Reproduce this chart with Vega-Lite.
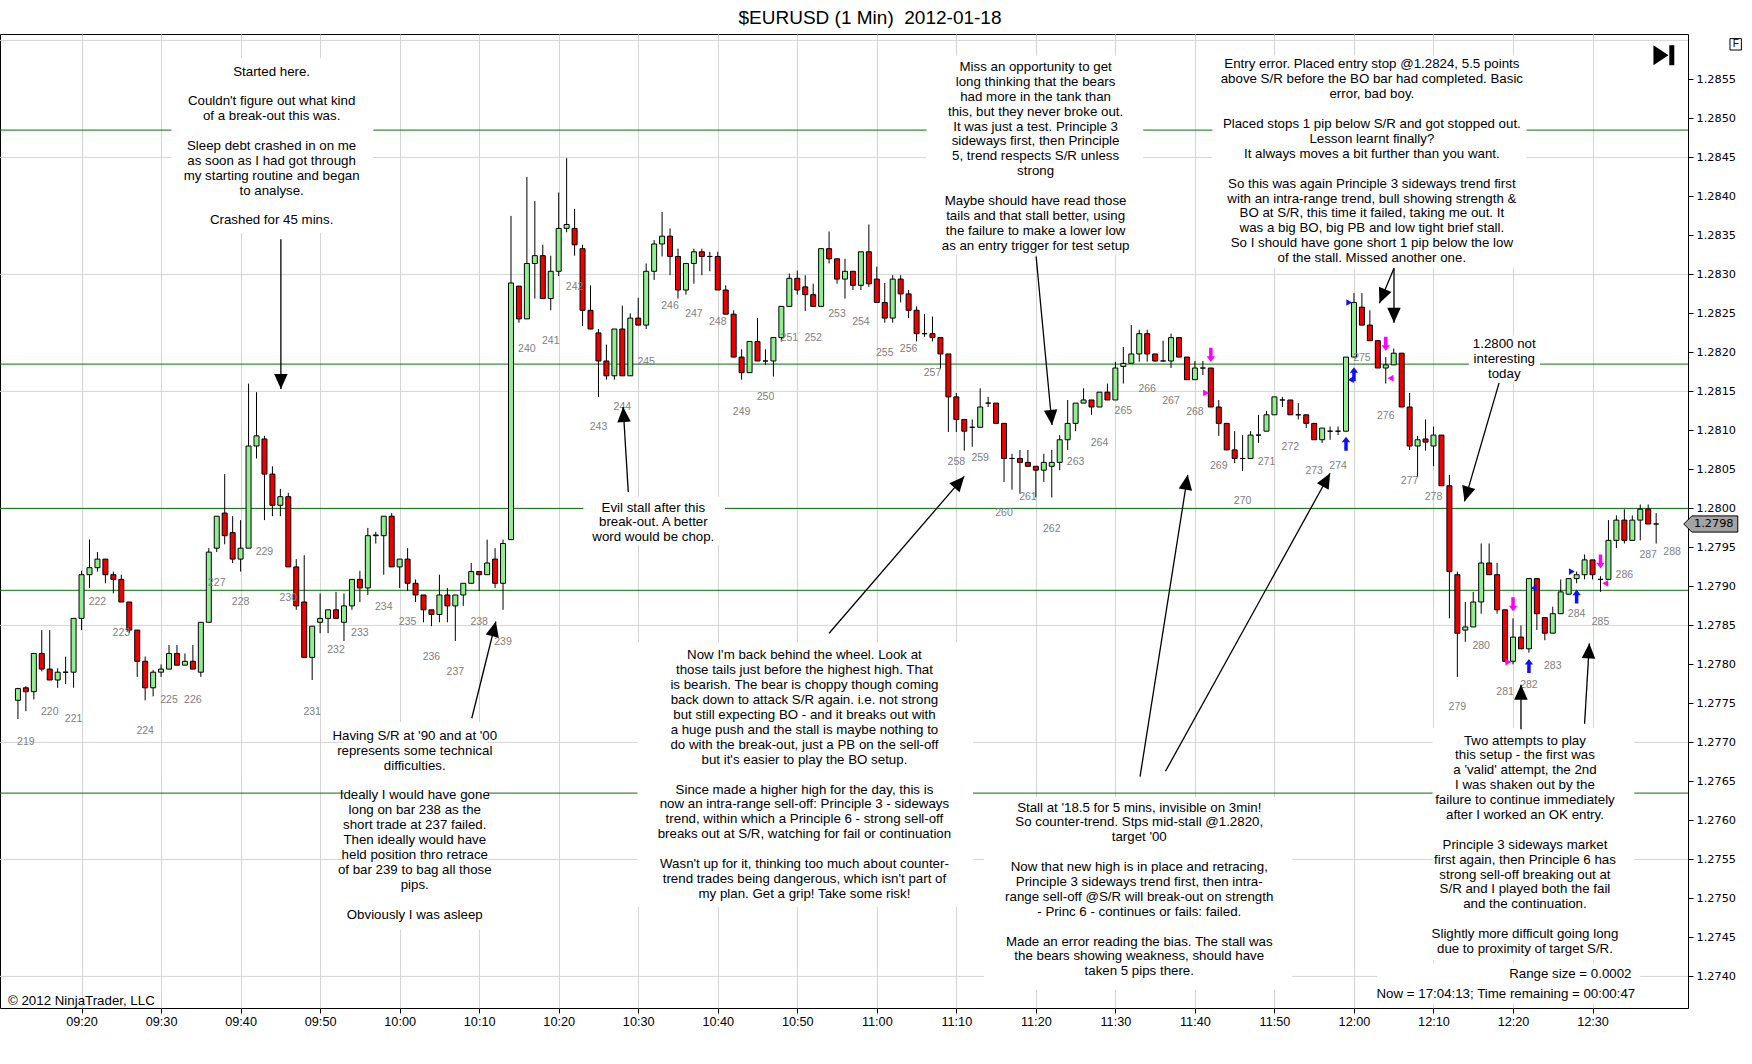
{
  "$schema": "https://vega.github.io/schema/vega-lite/v6.json",
  "description": "EURUSD 1 minute candles, 2012-01-18, with trading notes",
  "width": 1688,
  "height": 974,
  "autosize": {"type": "none"},
  "padding": {"left": 0, "top": 34, "right": 64, "bottom": 56},
  "background": "white",
  "config": {
    "view": {"stroke": "black", "strokeWidth": 1},
    "font": "Liberation Sans"
  },
  "title": {
    "text": "$EURUSD (1 Min)\u00a0 2012-01-18",
    "font": "Liberation Sans",
    "fontSize": 19,
    "fontWeight": "normal",
    "color": "black",
    "anchor": "middle",
    "offset": 6,
    "dx": 26
  },
  "layer": [
    {
      "data": {"values": [
        {"price": 1.274}, {"price": 1.2755}, {"price": 1.277}, {"price": 1.2785}, {"price": 1.28},
        {"price": 1.2815}, {"price": 1.283}, {"price": 1.2845}, {"price": 1.286}
      ]},
      "mark": {"type": "rule", "color": "#d4d4d4", "strokeWidth": 1},
      "encoding": {
        "y": {"field": "price", "type": "quantitative", "title": null,
              "scale": {"domain": [1.2735949, 1.2860821], "nice": false, "zero": false}}
      }
    },
    {
      "data": {"values": [
        {"price": 1.28485}, {"price": 1.28185}, {"price": 1.28}, {"price": 1.27895}, {"price": 1.27635}
      ]},
      "mark": {"type": "rule", "color": "#0a6e0a", "strokeWidth": 1},
      "encoding": {
        "y": {"field": "price", "type": "quantitative", "title": null}
      }
    },
    {
      "data": {
        "values": [
          {"time": "09:31:18", "time2": "09:56:42", "p": 1.28577, "p2": 1.28353},
          {"time": "11:06:15", "time2": "11:33:30", "p": 1.28581, "p2": 1.28325},
          {"time": "11:42:12", "time2": "12:21:42", "p": 1.28581, "p2": 1.28308},
          {"time": "12:14:27", "time2": "12:23:24", "p": 1.28222, "p2": 1.28162},
          {"time": "10:23:06", "time2": "10:40:54", "p": 1.28015, "p2": 1.27953},
          {"time": "09:53:00", "time2": "10:11:06", "p": 1.27726, "p2": 1.2746},
          {"time": "10:29:54", "time2": "11:12:06", "p": 1.27828, "p2": 1.27489},
          {"time": "11:13:30", "time2": "11:52:15", "p": 1.2763, "p2": 1.27383},
          {"time": "12:09:54", "time2": "12:35:15", "p": 1.27719, "p2": 1.27421},
          {"time": "12:02:54", "time2": "12:36:00", "p": 1.27417, "p2": 1.27365}
        ],
        "format": {"parse": {"time": "date:'%H:%M:%S'", "time2": "date:'%H:%M:%S'"}}
      },
      "mark": {"type": "rect", "color": "white"},
      "encoding": {
        "x": {"field": "time", "type": "temporal", "title": null},
        "x2": {"field": "time2"},
        "y": {"field": "p", "type": "quantitative", "title": null},
        "y2": {"field": "p2"}
      }
    },
    {
      "data": {
        "values": [
          {"time": "09:12", "open": 1.27754, "high": 1.2777, "low": 1.2773, "close": 1.27769},
          {"time": "09:13", "open": 1.2777, "high": 1.27772, "low": 1.2774, "close": 1.27765},
          {"time": "09:14", "open": 1.27765, "high": 1.27814, "low": 1.27755, "close": 1.27814},
          {"time": "09:15", "open": 1.27814, "high": 1.27844, "low": 1.27791, "close": 1.27794},
          {"time": "09:16", "open": 1.27794, "high": 1.27844, "low": 1.2778, "close": 1.2778},
          {"time": "09:17", "open": 1.2778, "high": 1.27795, "low": 1.2777, "close": 1.2779},
          {"time": "09:18", "open": 1.2779, "high": 1.2781, "low": 1.27775, "close": 1.2779},
          {"time": "09:19", "open": 1.2779, "high": 1.27859, "low": 1.2777, "close": 1.27859},
          {"time": "09:20", "open": 1.27859, "high": 1.2792, "low": 1.27844, "close": 1.27915},
          {"time": "09:21", "open": 1.27915, "high": 1.2796, "low": 1.27898, "close": 1.27924},
          {"time": "09:22", "open": 1.27924, "high": 1.27944, "low": 1.27919, "close": 1.27935},
          {"time": "09:23", "open": 1.27935, "high": 1.27935, "low": 1.27904, "close": 1.27915},
          {"time": "09:24", "open": 1.27915, "high": 1.27919, "low": 1.27891, "close": 1.27909},
          {"time": "09:25", "open": 1.27909, "high": 1.27915, "low": 1.2788, "close": 1.2788},
          {"time": "09:26", "open": 1.2788, "high": 1.2788, "low": 1.2784, "close": 1.27844},
          {"time": "09:27", "open": 1.27844, "high": 1.27844, "low": 1.27784, "close": 1.27804},
          {"time": "09:28", "open": 1.27804, "high": 1.2781, "low": 1.27754, "close": 1.2777},
          {"time": "09:29", "open": 1.2777, "high": 1.27793, "low": 1.27759, "close": 1.2779},
          {"time": "09:30", "open": 1.2779, "high": 1.278, "low": 1.27784, "close": 1.27794},
          {"time": "09:31", "open": 1.27794, "high": 1.27825, "low": 1.27794, "close": 1.27814},
          {"time": "09:32", "open": 1.27814, "high": 1.27825, "low": 1.27799, "close": 1.27799},
          {"time": "09:33", "open": 1.27799, "high": 1.27814, "low": 1.27799, "close": 1.27804},
          {"time": "09:34", "open": 1.27804, "high": 1.27825, "low": 1.27794, "close": 1.27794},
          {"time": "09:35", "open": 1.2779, "high": 1.27854, "low": 1.27784, "close": 1.27854},
          {"time": "09:36", "open": 1.27854, "high": 1.27949, "low": 1.27854, "close": 1.27944},
          {"time": "09:37", "open": 1.27949, "high": 1.2799, "low": 1.27944, "close": 1.2799},
          {"time": "09:38", "open": 1.27994, "high": 1.28044, "low": 1.27954, "close": 1.27965},
          {"time": "09:39", "open": 1.27969, "high": 1.2799, "low": 1.2793, "close": 1.27935},
          {"time": "09:40", "open": 1.27935, "high": 1.27985, "low": 1.27919, "close": 1.27949},
          {"time": "09:41", "open": 1.27949, "high": 1.2816, "low": 1.27949, "close": 1.2808},
          {"time": "09:42", "open": 1.2808, "high": 1.28149, "low": 1.28064, "close": 1.28093},
          {"time": "09:43", "open": 1.28089, "high": 1.28093, "low": 1.27985, "close": 1.28044},
          {"time": "09:44", "open": 1.28044, "high": 1.28054, "low": 1.2799, "close": 1.28004},
          {"time": "09:45", "open": 1.28004, "high": 1.28025, "low": 1.2799, "close": 1.28015},
          {"time": "09:46", "open": 1.28015, "high": 1.2802, "low": 1.27925, "close": 1.27925},
          {"time": "09:47", "open": 1.27925, "high": 1.27935, "low": 1.2787, "close": 1.27875},
          {"time": "09:48", "open": 1.2788, "high": 1.2794, "low": 1.27809, "close": 1.27809},
          {"time": "09:49", "open": 1.27809, "high": 1.27849, "low": 1.2778, "close": 1.27849},
          {"time": "09:50", "open": 1.27854, "high": 1.27891, "low": 1.2784, "close": 1.27859},
          {"time": "09:51", "open": 1.27859, "high": 1.2787, "low": 1.2784, "close": 1.2787},
          {"time": "09:52", "open": 1.2787, "high": 1.27893, "low": 1.27859, "close": 1.27859},
          {"time": "09:53", "open": 1.27854, "high": 1.27891, "low": 1.2783, "close": 1.27875},
          {"time": "09:54", "open": 1.27875, "high": 1.27909, "low": 1.2787, "close": 1.27909},
          {"time": "09:55", "open": 1.27909, "high": 1.2792, "low": 1.2788, "close": 1.27898},
          {"time": "09:56", "open": 1.27898, "high": 1.27975, "low": 1.27889, "close": 1.27965},
          {"time": "09:57", "open": 1.27965, "high": 1.2797, "low": 1.27955, "close": 1.27966},
          {"time": "09:58", "open": 1.27965, "high": 1.2799, "low": 1.27915, "close": 1.2799},
          {"time": "09:59", "open": 1.2799, "high": 1.27994, "low": 1.27925, "close": 1.27925},
          {"time": "10:00", "open": 1.27925, "high": 1.27935, "low": 1.27898, "close": 1.27935},
          {"time": "10:01", "open": 1.27935, "high": 1.27949, "low": 1.27894, "close": 1.27904},
          {"time": "10:02", "open": 1.27904, "high": 1.27909, "low": 1.2788, "close": 1.27889},
          {"time": "10:03", "open": 1.27889, "high": 1.27889, "low": 1.27854, "close": 1.2787},
          {"time": "10:04", "open": 1.2787, "high": 1.2787, "low": 1.27849, "close": 1.27864},
          {"time": "10:05", "open": 1.27864, "high": 1.27915, "low": 1.27854, "close": 1.27889},
          {"time": "10:06", "open": 1.27889, "high": 1.27898, "low": 1.27854, "close": 1.27875},
          {"time": "10:07", "open": 1.27875, "high": 1.27889, "low": 1.2783, "close": 1.27889},
          {"time": "10:08", "open": 1.27889, "high": 1.27904, "low": 1.27875, "close": 1.27904},
          {"time": "10:09", "open": 1.27904, "high": 1.2793, "low": 1.27904, "close": 1.27919},
          {"time": "10:10", "open": 1.27919, "high": 1.27919, "low": 1.27894, "close": 1.27915},
          {"time": "10:11", "open": 1.27915, "high": 1.2796, "low": 1.27915, "close": 1.2793},
          {"time": "10:12", "open": 1.27935, "high": 1.27949, "low": 1.27898, "close": 1.27904},
          {"time": "10:13", "open": 1.27904, "high": 1.2796, "low": 1.2787, "close": 1.27955},
          {"time": "10:14", "open": 1.2796, "high": 1.28375, "low": 1.2796, "close": 1.28289},
          {"time": "10:15", "open": 1.28285, "high": 1.28285, "low": 1.28238, "close": 1.28243},
          {"time": "10:16", "open": 1.28243, "high": 1.28425, "low": 1.28243, "close": 1.28314},
          {"time": "10:17", "open": 1.28314, "high": 1.28394, "low": 1.28269, "close": 1.28324},
          {"time": "10:18", "open": 1.28324, "high": 1.28338, "low": 1.28269, "close": 1.28269},
          {"time": "10:19", "open": 1.28269, "high": 1.28324, "low": 1.28254, "close": 1.28304},
          {"time": "10:20", "open": 1.28304, "high": 1.28405, "low": 1.28298, "close": 1.28359},
          {"time": "10:21", "open": 1.28359, "high": 1.28449, "low": 1.28354, "close": 1.28364},
          {"time": "10:22", "open": 1.28359, "high": 1.28384, "low": 1.28324, "close": 1.28338},
          {"time": "10:23", "open": 1.28333, "high": 1.28338, "low": 1.28234, "close": 1.28254},
          {"time": "10:24", "open": 1.28254, "high": 1.28286, "low": 1.2823, "close": 1.2823},
          {"time": "10:25", "open": 1.28225, "high": 1.2823, "low": 1.28143, "close": 1.28189},
          {"time": "10:26", "open": 1.28189, "high": 1.2821, "low": 1.28165, "close": 1.2817},
          {"time": "10:27", "open": 1.2817, "high": 1.2823, "low": 1.28165, "close": 1.2823},
          {"time": "10:28", "open": 1.2823, "high": 1.2826, "low": 1.2817, "close": 1.2817},
          {"time": "10:29", "open": 1.2817, "high": 1.2825, "low": 1.2817, "close": 1.28244},
          {"time": "10:30", "open": 1.28244, "high": 1.2827, "low": 1.28235, "close": 1.28235},
          {"time": "10:31", "open": 1.28235, "high": 1.28314, "low": 1.2823, "close": 1.28304},
          {"time": "10:32", "open": 1.28304, "high": 1.28344, "low": 1.28293, "close": 1.28339},
          {"time": "10:33", "open": 1.28339, "high": 1.2838, "low": 1.28323, "close": 1.28349},
          {"time": "10:34", "open": 1.28349, "high": 1.28359, "low": 1.28299, "close": 1.28323},
          {"time": "10:35", "open": 1.28323, "high": 1.28333, "low": 1.28269, "close": 1.2828},
          {"time": "10:36", "open": 1.2828, "high": 1.28314, "low": 1.28274, "close": 1.28314},
          {"time": "10:37", "open": 1.28314, "high": 1.28333, "low": 1.28288, "close": 1.28329},
          {"time": "10:38", "open": 1.28329, "high": 1.28333, "low": 1.28299, "close": 1.28323},
          {"time": "10:39", "open": 1.28323, "high": 1.28329, "low": 1.28304, "close": 1.28323},
          {"time": "10:40", "open": 1.28323, "high": 1.28329, "low": 1.2828, "close": 1.2828},
          {"time": "10:41", "open": 1.2828, "high": 1.28286, "low": 1.28249, "close": 1.28249},
          {"time": "10:42", "open": 1.28249, "high": 1.28254, "low": 1.28194, "close": 1.28194},
          {"time": "10:43", "open": 1.28194, "high": 1.28204, "low": 1.28165, "close": 1.28174},
          {"time": "10:44", "open": 1.28174, "high": 1.28214, "low": 1.28174, "close": 1.28214},
          {"time": "10:45", "open": 1.28214, "high": 1.28244, "low": 1.28189, "close": 1.28189},
          {"time": "10:46", "open": 1.28189, "high": 1.28204, "low": 1.28184, "close": 1.28189},
          {"time": "10:47", "open": 1.28189, "high": 1.28219, "low": 1.28169, "close": 1.28219},
          {"time": "10:48", "open": 1.28219, "high": 1.28259, "low": 1.28214, "close": 1.28259},
          {"time": "10:49", "open": 1.28259, "high": 1.28301, "low": 1.28259, "close": 1.28295},
          {"time": "10:50", "open": 1.28295, "high": 1.28305, "low": 1.28274, "close": 1.2828},
          {"time": "10:51", "open": 1.28284, "high": 1.28299, "low": 1.28253, "close": 1.28274},
          {"time": "10:52", "open": 1.28274, "high": 1.28288, "low": 1.28259, "close": 1.28259},
          {"time": "10:53", "open": 1.28259, "high": 1.28333, "low": 1.28259, "close": 1.28333},
          {"time": "10:54", "open": 1.28333, "high": 1.28355, "low": 1.28314, "close": 1.2832},
          {"time": "10:55", "open": 1.2832, "high": 1.2832, "low": 1.28288, "close": 1.28294},
          {"time": "10:56", "open": 1.28294, "high": 1.2832, "low": 1.28269, "close": 1.28304},
          {"time": "10:57", "open": 1.28304, "high": 1.28304, "low": 1.2828, "close": 1.28286},
          {"time": "10:58", "open": 1.28286, "high": 1.28329, "low": 1.2828, "close": 1.28329},
          {"time": "10:59", "open": 1.28329, "high": 1.28364, "low": 1.28284, "close": 1.28288},
          {"time": "11:00", "open": 1.28294, "high": 1.2831, "low": 1.28264, "close": 1.28264},
          {"time": "11:01", "open": 1.28264, "high": 1.28289, "low": 1.28238, "close": 1.28244},
          {"time": "11:02", "open": 1.28244, "high": 1.28299, "low": 1.28238, "close": 1.28294},
          {"time": "11:03", "open": 1.28294, "high": 1.28299, "low": 1.28264, "close": 1.28275},
          {"time": "11:04", "open": 1.28275, "high": 1.2828, "low": 1.28244, "close": 1.28254},
          {"time": "11:05", "open": 1.28254, "high": 1.28259, "low": 1.28214, "close": 1.28224},
          {"time": "11:06", "open": 1.28224, "high": 1.28249, "low": 1.2822, "close": 1.28224},
          {"time": "11:07", "open": 1.28224, "high": 1.28246, "low": 1.28214, "close": 1.28219},
          {"time": "11:08", "open": 1.28219, "high": 1.28219, "low": 1.28179, "close": 1.28198},
          {"time": "11:09", "open": 1.28198, "high": 1.28198, "low": 1.28098, "close": 1.28143},
          {"time": "11:10", "open": 1.28143, "high": 1.28148, "low": 1.28098, "close": 1.28114},
          {"time": "11:11", "open": 1.28114, "high": 1.28114, "low": 1.28074, "close": 1.28099},
          {"time": "11:12", "open": 1.28104, "high": 1.28114, "low": 1.28079, "close": 1.28104},
          {"time": "11:13", "open": 1.28104, "high": 1.28154, "low": 1.28104, "close": 1.2813},
          {"time": "11:14", "open": 1.28135, "high": 1.28143, "low": 1.2813, "close": 1.28135},
          {"time": "11:15", "open": 1.28135, "high": 1.28135, "low": 1.28109, "close": 1.28109},
          {"time": "11:16", "open": 1.28109, "high": 1.28109, "low": 1.28034, "close": 1.28064},
          {"time": "11:17", "open": 1.28064, "high": 1.2807, "low": 1.28024, "close": 1.28064},
          {"time": "11:18", "open": 1.28064, "high": 1.28075, "low": 1.28019, "close": 1.28059},
          {"time": "11:19", "open": 1.28059, "high": 1.28075, "low": 1.28054, "close": 1.28054},
          {"time": "11:20", "open": 1.28054, "high": 1.28054, "low": 1.28014, "close": 1.28049},
          {"time": "11:21", "open": 1.28049, "high": 1.2807, "low": 1.28034, "close": 1.28059},
          {"time": "11:22", "open": 1.28054, "high": 1.28075, "low": 1.28014, "close": 1.28059},
          {"time": "11:23", "open": 1.28059, "high": 1.28094, "low": 1.28049, "close": 1.28088},
          {"time": "11:24", "open": 1.28088, "high": 1.28139, "low": 1.28075, "close": 1.28109},
          {"time": "11:25", "open": 1.28109, "high": 1.28135, "low": 1.28099, "close": 1.28135},
          {"time": "11:26", "open": 1.28135, "high": 1.28154, "low": 1.28135, "close": 1.28139},
          {"time": "11:27", "open": 1.28139, "high": 1.28139, "low": 1.2812, "close": 1.2813},
          {"time": "11:28", "open": 1.2813, "high": 1.28149, "low": 1.2813, "close": 1.28149},
          {"time": "11:29", "open": 1.28149, "high": 1.2816, "low": 1.28139, "close": 1.28139},
          {"time": "11:30", "open": 1.28139, "high": 1.28188, "low": 1.28139, "close": 1.2818},
          {"time": "11:31", "open": 1.28182, "high": 1.28207, "low": 1.2816, "close": 1.28186},
          {"time": "11:32", "open": 1.28186, "high": 1.28235, "low": 1.28186, "close": 1.28198},
          {"time": "11:33", "open": 1.28198, "high": 1.28229, "low": 1.28188, "close": 1.28224},
          {"time": "11:34", "open": 1.28224, "high": 1.28229, "low": 1.28188, "close": 1.28198},
          {"time": "11:35", "open": 1.28198, "high": 1.28198, "low": 1.28188, "close": 1.28189},
          {"time": "11:36", "open": 1.28189, "high": 1.28215, "low": 1.28189, "close": 1.28189},
          {"time": "11:37", "open": 1.28189, "high": 1.28224, "low": 1.2818, "close": 1.28219},
          {"time": "11:38", "open": 1.28219, "high": 1.28219, "low": 1.28194, "close": 1.28194},
          {"time": "11:39", "open": 1.28194, "high": 1.28194, "low": 1.28165, "close": 1.28165},
          {"time": "11:40", "open": 1.28165, "high": 1.28189, "low": 1.28165, "close": 1.2818},
          {"time": "11:41", "open": 1.2818, "high": 1.28189, "low": 1.28171, "close": 1.2818},
          {"time": "11:42", "open": 1.2818, "high": 1.2818, "low": 1.2813, "close": 1.2813},
          {"time": "11:43", "open": 1.2813, "high": 1.28139, "low": 1.28093, "close": 1.28109},
          {"time": "11:44", "open": 1.28109, "high": 1.28109, "low": 1.28075, "close": 1.28075},
          {"time": "11:45", "open": 1.28075, "high": 1.28099, "low": 1.28058, "close": 1.28064},
          {"time": "11:46", "open": 1.28064, "high": 1.28094, "low": 1.28048, "close": 1.28064},
          {"time": "11:47", "open": 1.28064, "high": 1.28099, "low": 1.28064, "close": 1.28094},
          {"time": "11:48", "open": 1.28094, "high": 1.2812, "low": 1.28084, "close": 1.28094},
          {"time": "11:49", "open": 1.28099, "high": 1.28125, "low": 1.28099, "close": 1.2812},
          {"time": "11:50", "open": 1.2812, "high": 1.28143, "low": 1.2812, "close": 1.28143},
          {"time": "11:51", "open": 1.28139, "high": 1.28143, "low": 1.2813, "close": 1.28139},
          {"time": "11:52", "open": 1.28139, "high": 1.28139, "low": 1.2812, "close": 1.2812},
          {"time": "11:53", "open": 1.2812, "high": 1.28135, "low": 1.28114, "close": 1.2812},
          {"time": "11:54", "open": 1.2812, "high": 1.2812, "low": 1.28103, "close": 1.28109},
          {"time": "11:55", "open": 1.28109, "high": 1.28109, "low": 1.28088, "close": 1.28088},
          {"time": "11:56", "open": 1.28088, "high": 1.28103, "low": 1.28084, "close": 1.28103},
          {"time": "11:57", "open": 1.28099, "high": 1.28105, "low": 1.28088, "close": 1.28099},
          {"time": "11:58", "open": 1.28099, "high": 1.28105, "low": 1.28094, "close": 1.28099},
          {"time": "11:59", "open": 1.28099, "high": 1.28194, "low": 1.28099, "close": 1.28194},
          {"time": "12:00", "open": 1.28194, "high": 1.28276, "low": 1.28194, "close": 1.28264},
          {"time": "12:01", "open": 1.28258, "high": 1.28276, "low": 1.28235, "close": 1.28235},
          {"time": "12:02", "open": 1.28235, "high": 1.28254, "low": 1.28215, "close": 1.28215},
          {"time": "12:03", "open": 1.28215, "high": 1.28215, "low": 1.2818, "close": 1.2818},
          {"time": "12:04", "open": 1.2818, "high": 1.28194, "low": 1.2816, "close": 1.28184},
          {"time": "12:05", "open": 1.28184, "high": 1.28205, "low": 1.28184, "close": 1.28199},
          {"time": "12:06", "open": 1.28199, "high": 1.28199, "low": 1.2813, "close": 1.2813},
          {"time": "12:07", "open": 1.2813, "high": 1.28148, "low": 1.28075, "close": 1.2808},
          {"time": "12:08", "open": 1.2808, "high": 1.28093, "low": 1.2804, "close": 1.28088},
          {"time": "12:09", "open": 1.28089, "high": 1.28114, "low": 1.28074, "close": 1.28085},
          {"time": "12:10", "open": 1.2808, "high": 1.28105, "low": 1.28054, "close": 1.28094},
          {"time": "12:11", "open": 1.28094, "high": 1.28094, "low": 1.28029, "close": 1.28029},
          {"time": "12:12", "open": 1.28029, "high": 1.28043, "low": 1.27859, "close": 1.27919},
          {"time": "12:13", "open": 1.27915, "high": 1.27919, "low": 1.27784, "close": 1.2784},
          {"time": "12:14", "open": 1.27844, "high": 1.2788, "low": 1.27829, "close": 1.27848},
          {"time": "12:15", "open": 1.27848, "high": 1.27893, "low": 1.27848, "close": 1.2788},
          {"time": "12:16", "open": 1.2788, "high": 1.27955, "low": 1.27865, "close": 1.2793},
          {"time": "12:17", "open": 1.2793, "high": 1.27955, "low": 1.27915, "close": 1.27915},
          {"time": "12:18", "open": 1.27915, "high": 1.2793, "low": 1.27865, "close": 1.2787},
          {"time": "12:19", "open": 1.2787, "high": 1.2787, "low": 1.27804, "close": 1.27804},
          {"time": "12:20", "open": 1.27804, "high": 1.27859, "low": 1.278, "close": 1.27835},
          {"time": "12:21", "open": 1.27835, "high": 1.2785, "low": 1.2782, "close": 1.2782},
          {"time": "12:22", "open": 1.2782, "high": 1.2791, "low": 1.27815, "close": 1.2791},
          {"time": "12:23", "open": 1.2791, "high": 1.2791, "low": 1.27844, "close": 1.27865},
          {"time": "12:24", "open": 1.2786, "high": 1.2786, "low": 1.27831, "close": 1.2784},
          {"time": "12:25", "open": 1.2784, "high": 1.27874, "low": 1.2784, "close": 1.27865},
          {"time": "12:26", "open": 1.27865, "high": 1.27909, "low": 1.27865, "close": 1.27893},
          {"time": "12:27", "open": 1.2789, "high": 1.2791, "low": 1.2789, "close": 1.2791},
          {"time": "12:28", "open": 1.2791, "high": 1.27919, "low": 1.27904, "close": 1.27915},
          {"time": "12:29", "open": 1.27915, "high": 1.27941, "low": 1.27909, "close": 1.27934},
          {"time": "12:30", "open": 1.27934, "high": 1.27934, "low": 1.27909, "close": 1.27915},
          {"time": "12:31", "open": 1.27909, "high": 1.27913, "low": 1.27893, "close": 1.27909},
          {"time": "12:32", "open": 1.27909, "high": 1.27985, "low": 1.27909, "close": 1.27959},
          {"time": "12:33", "open": 1.27959, "high": 1.27991, "low": 1.27949, "close": 1.27985},
          {"time": "12:34", "open": 1.27985, "high": 1.27999, "low": 1.27955, "close": 1.27959},
          {"time": "12:35", "open": 1.27959, "high": 1.27991, "low": 1.27959, "close": 1.27985},
          {"time": "12:36", "open": 1.27985, "high": 1.28005, "low": 1.27959, "close": 1.27999},
          {"time": "12:37", "open": 1.27999, "high": 1.28005, "low": 1.2798, "close": 1.2798},
          {"time": "12:38", "open": 1.2798, "high": 1.27994, "low": 1.27955, "close": 1.2798}
        ],
        "format": {"parse": {"time": "date:'%H:%M'"}}
      },
      "layer": [
        {
          "mark": {"type": "rule", "color": "black", "strokeWidth": 1},
          "encoding": {
            "x": {
              "field": "time", "type": "temporal", "title": null,
              "scale": {"domain": [
                {"year": 1900, "month": 1, "date": 1, "hours": 9, "minutes": 10, "seconds": 22, "milliseconds": 500},
                {"year": 1900, "month": 1, "date": 1, "hours": 12, "minutes": 41, "seconds": 22, "milliseconds": 500}
              ]},
              "axis": {
                "values": [
                  {"year": 1900, "month": 1, "date": 1, "hours": 9, "minutes": 20},
                  {"year": 1900, "month": 1, "date": 1, "hours": 9, "minutes": 30},
                  {"year": 1900, "month": 1, "date": 1, "hours": 9, "minutes": 40},
                  {"year": 1900, "month": 1, "date": 1, "hours": 9, "minutes": 50},
                  {"year": 1900, "month": 1, "date": 1, "hours": 10, "minutes": 0},
                  {"year": 1900, "month": 1, "date": 1, "hours": 10, "minutes": 10},
                  {"year": 1900, "month": 1, "date": 1, "hours": 10, "minutes": 20},
                  {"year": 1900, "month": 1, "date": 1, "hours": 10, "minutes": 30},
                  {"year": 1900, "month": 1, "date": 1, "hours": 10, "minutes": 40},
                  {"year": 1900, "month": 1, "date": 1, "hours": 10, "minutes": 50},
                  {"year": 1900, "month": 1, "date": 1, "hours": 11, "minutes": 0},
                  {"year": 1900, "month": 1, "date": 1, "hours": 11, "minutes": 10},
                  {"year": 1900, "month": 1, "date": 1, "hours": 11, "minutes": 20},
                  {"year": 1900, "month": 1, "date": 1, "hours": 11, "minutes": 30},
                  {"year": 1900, "month": 1, "date": 1, "hours": 11, "minutes": 40},
                  {"year": 1900, "month": 1, "date": 1, "hours": 11, "minutes": 50},
                  {"year": 1900, "month": 1, "date": 1, "hours": 12, "minutes": 0},
                  {"year": 1900, "month": 1, "date": 1, "hours": 12, "minutes": 10},
                  {"year": 1900, "month": 1, "date": 1, "hours": 12, "minutes": 20},
                  {"year": 1900, "month": 1, "date": 1, "hours": 12, "minutes": 30}
                ],
                "format": "%H:%M",
                "grid": true,
                "gridColor": "#d4d4d4",
                "domain": false,
                "tickSize": 5,
                "tickColor": "black",
                "labelFont": "Liberation Sans",
                "labelFontSize": 12.7,
                "labelColor": "black",
                "labelPadding": 2,
                "labelFlush": false,
                "labelOverlap": false
              }
            },
            "y": {
              "field": "low", "type": "quantitative", "title": null,
              "scale": {"domain": [1.2735949, 1.2860821], "nice": false, "zero": false},
              "axis": {
                "orient": "right",
                "values": [1.274, 1.2745, 1.275, 1.2755, 1.276, 1.2765, 1.277, 1.2775, 1.278, 1.2785, 1.279, 1.2795,
                           1.28, 1.2805, 1.281, 1.2815, 1.282, 1.2825, 1.283, 1.2835, 1.284, 1.2845, 1.285, 1.2855],
                "format": ".4f",
                "grid": false,
                "domain": false,
                "tickSize": 5,
                "tickColor": "black",
                "labelFont": "DejaVu Sans",
                "labelFontSize": 11.3,
                "labelColor": "black",
                "labelPadding": 3,
                "labelFlush": false,
                "labelOverlap": false
              }
            },
            "y2": {"field": "high"}
          }
        },
        {
          "mark": {"type": "bar", "size": 5, "stroke": "black", "strokeWidth": 1},
          "encoding": {
            "x": {"field": "time", "type": "temporal", "title": null},
            "y": {"field": "open", "type": "quantitative", "title": null},
            "y2": {"field": "close"},
            "color": {
              "condition": {"test": "datum.close >= datum.open", "value": "#90ee90"},
              "value": "#ee0000"
            }
          }
        }
      ]
    },
    {
      "data": {
        "values": [
          {"n": 219, "time": "09:13", "price": 1.27701}, {"n": 220, "time": "09:16", "price": 1.27739},
          {"n": 221, "time": "09:19", "price": 1.2773}, {"n": 222, "time": "09:22", "price": 1.2788},
          {"n": 223, "time": "09:25", "price": 1.2784}, {"n": 224, "time": "09:28", "price": 1.27714},
          {"n": 225, "time": "09:31", "price": 1.27754}, {"n": 226, "time": "09:34", "price": 1.27754},
          {"n": 227, "time": "09:37", "price": 1.27904}, {"n": 228, "time": "09:40", "price": 1.2788},
          {"n": 229, "time": "09:43", "price": 1.27944}, {"n": 230, "time": "09:46", "price": 1.27885},
          {"n": 231, "time": "09:49", "price": 1.27739}, {"n": 232, "time": "09:52", "price": 1.27819},
          {"n": 233, "time": "09:55", "price": 1.2784}, {"n": 234, "time": "09:58", "price": 1.27874},
          {"n": 235, "time": "10:01", "price": 1.27854}, {"n": 236, "time": "10:04", "price": 1.27809},
          {"n": 237, "time": "10:07", "price": 1.2779}, {"n": 238, "time": "10:10", "price": 1.27854},
          {"n": 239, "time": "10:13", "price": 1.27829}, {"n": 240, "time": "10:16", "price": 1.28204},
          {"n": 241, "time": "10:19", "price": 1.28214}, {"n": 242, "time": "10:22", "price": 1.28284},
          {"n": 243, "time": "10:25", "price": 1.28105}, {"n": 244, "time": "10:28", "price": 1.2813},
          {"n": 245, "time": "10:31", "price": 1.28188}, {"n": 246, "time": "10:34", "price": 1.28259},
          {"n": 247, "time": "10:37", "price": 1.28249}, {"n": 248, "time": "10:40", "price": 1.28239},
          {"n": 249, "time": "10:43", "price": 1.28124}, {"n": 250, "time": "10:46", "price": 1.28143},
          {"n": 251, "time": "10:49", "price": 1.28219}, {"n": 252, "time": "10:52", "price": 1.28219},
          {"n": 253, "time": "10:55", "price": 1.28249}, {"n": 254, "time": "10:58", "price": 1.28239},
          {"n": 255, "time": "11:01", "price": 1.28199}, {"n": 256, "time": "11:04", "price": 1.28204},
          {"n": 257, "time": "11:07", "price": 1.28174}, {"n": 258, "time": "11:10", "price": 1.28059},
          {"n": 259, "time": "11:13", "price": 1.28064}, {"n": 260, "time": "11:16", "price": 1.27994},
          {"n": 261, "time": "11:19", "price": 1.28014}, {"n": 262, "time": "11:22", "price": 1.27974},
          {"n": 263, "time": "11:25", "price": 1.28059}, {"n": 264, "time": "11:28", "price": 1.28084},
          {"n": 265, "time": "11:31", "price": 1.28125}, {"n": 266, "time": "11:34", "price": 1.28153},
          {"n": 267, "time": "11:37", "price": 1.28138}, {"n": 268, "time": "11:40", "price": 1.28124},
          {"n": 269, "time": "11:43", "price": 1.28054}, {"n": 270, "time": "11:46", "price": 1.2801},
          {"n": 271, "time": "11:49", "price": 1.28059}, {"n": 272, "time": "11:52", "price": 1.28079},
          {"n": 273, "time": "11:55", "price": 1.28048}, {"n": 274, "time": "11:58", "price": 1.28054},
          {"n": 275, "time": "12:01", "price": 1.28193}, {"n": 276, "time": "12:04", "price": 1.28119},
          {"n": 277, "time": "12:07", "price": 1.28035}, {"n": 278, "time": "12:10", "price": 1.28014},
          {"n": 279, "time": "12:13", "price": 1.27745}, {"n": 280, "time": "12:16", "price": 1.27824},
          {"n": 281, "time": "12:19", "price": 1.27764}, {"n": 282, "time": "12:22", "price": 1.27774},
          {"n": 283, "time": "12:25", "price": 1.27798}, {"n": 284, "time": "12:28", "price": 1.27864},
          {"n": 285, "time": "12:31", "price": 1.27854}, {"n": 286, "time": "12:34", "price": 1.27914},
          {"n": 287, "time": "12:37", "price": 1.2794}, {"n": 288, "time": "12:40", "price": 1.27944}
        ],
        "format": {"parse": {"time": "date:'%H:%M'"}}
      },
      "mark": {"type": "text", "font": "Liberation Sans", "fontSize": 10.5, "color": "#808080", "align": "center", "baseline": "middle"},
      "encoding": {
        "x": {"field": "time", "type": "temporal", "title": null},
        "y": {"field": "price", "type": "quantitative", "title": null},
        "text": {"field": "n", "type": "nominal"}
      }
    },
    {
      "data": {
        "values": [
          {"time": "11:42:00", "price": 1.28197, "kind": "down", "side": "sell"},
          {"time": "12:04:00", "price": 1.28211, "kind": "down", "side": "sell"},
          {"time": "12:20:00", "price": 1.27877, "kind": "down", "side": "sell"},
          {"time": "12:31:00", "price": 1.27932, "kind": "down", "side": "sell"},
          {"time": "11:59:00", "price": 1.28083, "kind": "up", "side": "buy"},
          {"time": "12:00:00", "price": 1.28172, "kind": "up", "side": "buy"},
          {"time": "12:22:00", "price": 1.27798, "kind": "up", "side": "buy"},
          {"time": "12:28:00", "price": 1.27887, "kind": "up", "side": "buy"},
          {"time": "11:41:24", "price": 1.28148, "kind": "right", "side": "sell"},
          {"time": "11:59:24", "price": 1.28264, "kind": "right", "side": "buy"},
          {"time": "11:59:36", "price": 1.28165, "kind": "left", "side": "buy"},
          {"time": "12:04:36", "price": 1.28167, "kind": "left", "side": "sell"},
          {"time": "12:19:24", "price": 1.27803, "kind": "right", "side": "sell"},
          {"time": "12:22:36", "price": 1.27898, "kind": "left", "side": "buy"},
          {"time": "12:27:24", "price": 1.27919, "kind": "right", "side": "buy"},
          {"time": "12:31:36", "price": 1.27904, "kind": "left", "side": "sell"}
        ],
        "format": {"parse": {"time": "date:'%H:%M:%S'"}}
      },
      "mark": {"type": "point", "filled": true, "opacity": 1, "strokeWidth": 0},
      "encoding": {
        "x": {"field": "time", "type": "temporal", "title": null},
        "y": {"field": "price", "type": "quantitative", "title": null},
        "shape": {
          "field": "kind", "type": "nominal", "legend": null,
          "scale": {
            "domain": ["up", "down", "right", "left"],
            "range": [
              "M0,-1 L0.6,-0.2 L0.25,-0.2 L0.25,1 L-0.25,1 L-0.25,-0.2 L-0.6,-0.2 Z",
              "M0,1 L0.6,0.2 L0.25,0.2 L0.25,-1 L-0.25,-1 L-0.25,0.2 L-0.6,0.2 Z",
              "triangle-right",
              "triangle-left"
            ]
          }
        },
        "size": {
          "condition": {"test": "datum.kind === 'up' || datum.kind === 'down'", "value": 196},
          "value": 45
        },
        "color": {
          "field": "side", "type": "nominal", "legend": null,
          "scale": {"domain": ["buy", "sell"], "range": ["#1010ff", "#ff00ff"]}
        }
      }
    },
    {
      "data": {
        "values": [
          {"time": "09:45:04", "p": 1.28345, "time2": "09:45:04", "p2": 1.28153},
          {"time": "11:20:02", "p": 1.28323, "time2": "11:22:02", "p2": 1.28107},
          {"time": "12:05:02", "p": 1.28308, "time2": "12:05:02", "p2": 1.28238},
          {"time": "12:05:02", "p": 1.28308, "time2": "12:03:12", "p2": 1.28263},
          {"time": "12:18:15", "p": 1.28161, "time2": "12:13:54", "p2": 1.28009},
          {"time": "10:28:45", "p": 1.28021, "time2": "10:28:06", "p2": 1.2813},
          {"time": "10:09:04", "p": 1.27731, "time2": "10:12:06", "p2": 1.27855},
          {"time": "10:54:00", "p": 1.2784, "time2": "11:11:00", "p2": 1.28041},
          {"time": "11:33:06", "p": 1.27656, "time2": "11:39:06", "p2": 1.28043},
          {"time": "11:36:18", "p": 1.27663, "time2": "11:57:00", "p2": 1.28045},
          {"time": "12:21:00", "p": 1.27717, "time2": "12:21:00", "p2": 1.27774},
          {"time": "12:29:00", "p": 1.27724, "time2": "12:29:36", "p2": 1.27827}
        ],
        "format": {"parse": {"time": "date:'%H:%M:%S'", "time2": "date:'%H:%M:%S'"}}
      },
      "layer": [
        {
          "mark": {"type": "rule", "color": "black", "strokeWidth": 1.3},
          "encoding": {
            "x": {"field": "time", "type": "temporal", "title": null},
            "x2": {"field": "time2"},
            "y": {"field": "p", "type": "quantitative", "title": null},
            "y2": {"field": "p2"}
          }
        },
        {
          "transform": [
            {"calculate": "atan2((time(datum.time2) - time(datum.time)) / 60000 * 8, (datum.p2 - datum.p) * 78000) * 180 / PI", "as": "heading"}
          ],
          "mark": {"type": "point", "filled": true, "color": "black", "opacity": 1, "strokeWidth": 0,
                   "shape": "M0,0 L0.45,1 L-0.45,1 Z", "size": 900},
          "encoding": {
            "x": {"field": "time2", "type": "temporal", "title": null},
            "y": {"field": "p2", "type": "quantitative", "title": null},
            "angle": {"field": "heading", "type": "quantitative", "scale": null}
          }
        }
      ]
    },
    {
      "data": {
        "values": [
          {"time": "09:43:54", "price": 1.285691, "note": "Started here."},
          {"time": "09:43:54", "price": 1.285309, "note": "Couldn't figure out what kind\nof a break-out this was."},
          {"time": "09:43:54", "price": 1.284736, "note": "Sleep debt crashed in on me\nas soon as I had got through\nmy starting routine and began\nto analyse."},
          {"time": "09:43:54", "price": 1.283781, "note": "Crashed for 45 mins."},
          {"time": "11:19:58", "price": 1.285749, "note": "Miss an opportunity to get\nlong thinking that the bears\nhad more in the tank than\nthis, but they never broke out.\nIt was just a test. Principle 3\nsideways first, then Principle\n5, trend respects S/R unless\nstrong"},
          {"time": "11:19:58", "price": 1.28403, "note": "Maybe should have read those\ntails and that stall better, using\nthe failure to make a lower low\nas an entry trigger for test setup"},
          {"time": "12:02:15", "price": 1.285781, "note": "Entry error. Placed entry stop @1.2824, 5.5 points\nabove S/R before the BO bar had completed. Basic\nerror, bad boy."},
          {"time": "12:02:15", "price": 1.285017, "note": "Placed stops 1 pip below S/R and got stopped out.\nLesson learnt finally?\nIt always moves a bit further than you want."},
          {"time": "12:02:15", "price": 1.284253, "note": "So this was again Principle 3 sideways trend first\nwith an intra-range trend, bull showing strength &\nBO at S/R, this time it failed, taking me out. It\nwas a big BO, big PB and low tight brief stall.\nSo I should have gone short 1 pip below the low\nof the stall. Missed another one."},
          {"time": "12:18:54", "price": 1.2822, "note": "1.2800 not\ninteresting\ntoday"},
          {"time": "10:31:54", "price": 1.2801, "note": "Evil stall after this\nbreak-out. A better\nword would be chop."},
          {"time": "10:01:54", "price": 1.277174, "note": "Having S/R at '90 and at '00\nrepresents some technical\ndifficulties."},
          {"time": "10:01:54", "price": 1.27641, "note": "Ideally I would have gone\nlong on bar 238 as the\nshort trade at 237 failed.\nThen ideally would have\nheld position thro retrace\nof bar 239 to bag all those\npips."},
          {"time": "10:01:54", "price": 1.274882, "note": "Obviously I was asleep"},
          {"time": "10:50:54", "price": 1.278204, "note": "Now I'm back behind the wheel. Look at\nthose tails just before the highest high. That\nis bearish. The bear is choppy though coming\nback down to attack S/R again. i.e. not strong\nbut still expecting BO - and it breaks out with\na huge push and the stall is maybe nothing to\ndo with the break-out, just a PB on the sell-off\nbut it's easier to play the BO setup."},
          {"time": "10:50:54", "price": 1.276485, "note": "Since made a higher high for the day, this is\nnow an intra-range sell-off: Principle 3 - sideways\ntrend, within which a Principle 6 - strong sell-off\nbreaks out at S/R, watching for fail or continuation"},
          {"time": "10:50:54", "price": 1.27553, "note": "Wasn't up for it, thinking too much about counter-\ntrend trades being dangerous, which isn't part of\nmy plan. Get a grip! Take some risk!"},
          {"time": "11:33:00", "price": 1.276255, "note": "Stall at '18.5 for 5 mins, invisible on 3min!\nSo counter-trend. Stps mid-stall @1.2820,\ntarget '00"},
          {"time": "11:33:00", "price": 1.275491, "note": "Now that new high is in place and retracing,\nPrinciple 3 sideways trend first, then intra-\nrange sell-off @S/R will break-out on strength\n- Princ 6 - continues or fails: failed."},
          {"time": "11:33:00", "price": 1.274536, "note": "Made an error reading the bias. The stall was\nthe bears showing weakness, should have\ntaken 5 pips there."},
          {"time": "12:21:30", "price": 1.277114, "note": "Two attempts to play\nthis setup - the first was\na 'valid' attempt, the 2nd\nI was shaken out by the\nfailure to continue immediately\nafter I worked an OK entry."},
          {"time": "12:21:30", "price": 1.275777, "note": "Principle 3 sideways market\nfirst again, then Principle 6 has\nstrong sell-off breaking out at\nS/R and I played both the fail\nand the continuation."},
          {"time": "12:21:30", "price": 1.274631, "note": "Slightly more difficult going long\ndue to proximity of target S/R."}
        ],
        "format": {"parse": {"time": "date:'%H:%M:%S'"}}
      },
      "mark": {"type": "text", "font": "Liberation Sans", "fontSize": 13.3, "lineHeight": 14.9, "lineBreak": "\n",
               "align": "center", "baseline": "line-top", "color": "black"},
      "encoding": {
        "x": {"field": "time", "type": "temporal", "title": null},
        "y": {"field": "price", "type": "quantitative", "title": null},
        "text": {"field": "note", "type": "nominal"}
      }
    },
    {
      "data": {
        "values": [
          {"time": "12:34:54", "price": 1.27403, "note": "Range size = 0.0002"},
          {"time": "12:35:22", "price": 1.27378, "note": "Now = 17:04:13; Time remaining = 00:00:47"}
        ],
        "format": {"parse": {"time": "date:'%H:%M:%S'"}}
      },
      "mark": {"type": "text", "font": "Liberation Sans", "fontSize": 13.3, "align": "right", "baseline": "middle", "color": "black"},
      "encoding": {
        "x": {"field": "time", "type": "temporal", "title": null},
        "y": {"field": "price", "type": "quantitative", "title": null},
        "text": {"field": "note", "type": "nominal"}
      }
    },
    {
      "data": {
        "values": [
          {"time": "09:10:45", "price": 1.27369, "note": "© 2012 NinjaTrader, LLC"}
        ],
        "format": {"parse": {"time": "date:'%H:%M:%S'"}}
      },
      "mark": {"type": "text", "font": "Liberation Sans", "fontSize": 13.3, "align": "left", "baseline": "middle", "color": "black"},
      "encoding": {
        "x": {"field": "time", "type": "temporal", "title": null},
        "y": {"field": "price", "type": "quantitative", "title": null},
        "text": {"field": "note", "type": "nominal"}
      }
    },
    {
      "data": {
        "values": [{"time": "12:38:36", "price": 1.28581}],
        "format": {"parse": {"time": "date:'%H:%M:%S'"}}
      },
      "mark": {"type": "point", "filled": true, "color": "black", "opacity": 1, "strokeWidth": 0, "size": 400,
               "shape": "M-0.75,-1 L0.75,0 L-0.75,1 Z"},
      "encoding": {
        "x": {"field": "time", "type": "temporal", "title": null},
        "y": {"field": "price", "type": "quantitative", "title": null}
      }
    },
    {
      "data": {
        "values": [{"time": "12:39:58", "price": 1.28581}],
        "format": {"parse": {"time": "date:'%H:%M:%S'"}}
      },
      "mark": {"type": "point", "filled": true, "color": "black", "opacity": 1, "strokeWidth": 0, "size": 400,
               "shape": "M-0.25,-1 L0.25,-1 L0.25,1 L-0.25,1 Z"},
      "encoding": {
        "x": {"field": "time", "type": "temporal", "title": null},
        "y": {"field": "price", "type": "quantitative", "title": null}
      }
    },
    {
      "data": {
        "values": [
          {"time": "12:44:52", "price": 1.2798, "label": "1.2798"}
        ],
        "format": {"parse": {"time": "date:'%H:%M:%S'"}}
      },
      "layer": [
        {
          "mark": {"type": "point", "filled": true, "color": "#a3a3a3", "opacity": 1, "stroke": "black", "strokeWidth": 1,
                   "shape": "M-1,0 L-0.7,-0.3 L1,-0.3 L1,0.3 L-0.7,0.3 Z", "size": 2916},
          "encoding": {
            "x": {"field": "time", "type": "temporal", "title": null},
            "y": {"field": "price", "type": "quantitative", "title": null}
          }
        },
        {
          "mark": {"type": "text", "font": "DejaVu Sans", "fontSize": 11.3, "align": "center", "baseline": "middle", "color": "black", "dx": 3},
          "encoding": {
            "x": {"field": "time", "type": "temporal", "title": null},
            "y": {"field": "price", "type": "quantitative", "title": null},
            "text": {"field": "label", "type": "nominal"}
          }
        }
      ]
    },
    {
      "data": {
        "values": [
          {"time": "12:48:00", "price": 1.28595, "label": "F"}
        ],
        "format": {"parse": {"time": "date:'%H:%M:%S'"}}
      },
      "layer": [
        {
          "mark": {"type": "point", "shape": "square", "filled": true, "color": "white", "opacity": 1, "stroke": "black", "strokeWidth": 1, "size": 130},
          "encoding": {
            "x": {"field": "time", "type": "temporal", "title": null},
            "y": {"field": "price", "type": "quantitative", "title": null}
          }
        },
        {
          "mark": {"type": "text", "font": "Liberation Sans", "fontSize": 10, "align": "center", "baseline": "middle", "color": "black"},
          "encoding": {
            "x": {"field": "time", "type": "temporal", "title": null},
            "y": {"field": "price", "type": "quantitative", "title": null},
            "text": {"field": "label", "type": "nominal"}
          }
        }
      ]
    }
  ]
}
